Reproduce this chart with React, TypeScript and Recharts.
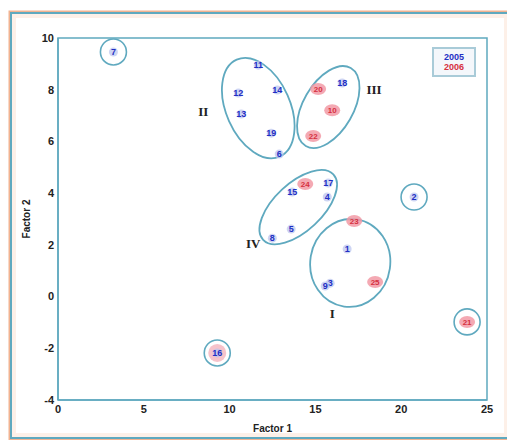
import { ScatterChart, Scatter, XAxis, YAxis, ReferenceArea } from 'recharts';

// sample points, first year (blue labels)
const bluePoints = [
  { x: 3.23, y: 9.46, label: '7' },
  { x: 20.75, y: 3.85, label: '2' },
  { x: 9.28, y: -2.18, label: '16' },
  { x: 11.67, y: 8.95, label: '11' },
  { x: 12.78, y: 7.99, label: '14' },
  { x: 10.51, y: 7.87, label: '12' },
  { x: 10.68, y: 7.06, label: '13' },
  { x: 12.43, y: 6.32, label: '19' },
  { x: 12.89, y: 5.51, label: '6' },
  { x: 16.56, y: 8.26, label: '18' },
  { x: 13.65, y: 4.04, label: '15' },
  { x: 15.75, y: 4.39, label: '17' },
  { x: 15.69, y: 3.85, label: '4' },
  { x: 13.59, y: 2.61, label: '5' },
  { x: 12.49, y: 2.26, label: '8' },
  { x: 16.85, y: 1.84, label: '1' },
  { x: 15.86, y: 0.52, label: '3' },
  { x: 15.57, y: 0.41, label: '9' },
];

// sample points, second year (red labels)
const redPoints = [
  { x: 23.84, y: -0.98, label: '21' },
  { x: 15.16, y: 8.03, label: '20' },
  { x: 15.98, y: 7.21, label: '10' },
  { x: 14.87, y: 6.21, label: '22' },
  { x: 14.41, y: 4.35, label: '24' },
  { x: 17.26, y: 2.92, label: '23' },
  { x: 18.48, y: 0.56, label: '25' },
];

// outliers that get a circle
const outliers = [
  { x: 3.23, y: 9.46, name: '7' },
  { x: 20.75, y: 3.85, name: '2' },
  { x: 9.28, y: -2.18, name: '16' },
  { x: 23.84, y: -0.98, name: '21' },
];

// cluster ellipse centres
const clusters = [
  { x: 11.67, y: 7.29, name: 'II' },
  { x: 15.75, y: 7.33, name: 'III' },
  { x: 14.0, y: 3.46, name: 'IV' },
  { x: 17.03, y: 1.3, name: 'I' },
];

// roman numeral labels
const clusterLabels = [
  { x: 8.47, y: 7.18, name: 'II' },
  { x: 18.42, y: 8.03, name: 'III' },
  { x: 11.38, y: 2.07, name: 'IV' },
  { x: 15.98, y: -0.64, name: 'I' },
];

const xTicks = [0, 5, 10, 15, 20, 25];
const yTicks = [-4, -2, 0, 2, 4, 6, 8, 10];

// ellipse shapes in pixels (rx, ry, rotation)
const ellipseShape: Record<string, [number, number, number]> = {
  II: [32, 53, -24],
  III: [25, 45, 30],
  IV: [48, 24, -43],
  I: [40, 44, 8],
};

const TEAL = '#5fa9bf';
const BLUE = '#1f2fc4';
const RED = '#d63040';
const FONT = '"Liberation Sans", Arial, sans-serif';

const BlueMark = (props: any) => {
  const { cx, cy, payload } = props;
  return (
    <g>
      <circle cx={cx} cy={cy} r={4.5} fill="#b9c3ee" opacity={0.7} />
      <text x={cx} y={cy + 3} textAnchor="middle" fontSize={9} fontWeight="bold" fill={BLUE} fontFamily={FONT}>
        {payload.label}
      </text>
    </g>
  );
};

const RedMark = (props: any) => {
  const { cx, cy, payload } = props;
  return (
    <g>
      <ellipse cx={cx} cy={cy} rx={8} ry={6} fill="#f29aa6" opacity={0.85} />
      <text x={cx} y={cy + 3} textAnchor="middle" fontSize={8} fontWeight="bold" fill={RED} fontFamily={FONT}>
        {payload.label}
      </text>
    </g>
  );
};

const OutlierRing = (props: any) => {
  const { cx, cy, payload } = props;
  return (
    <g>
      {payload.name === '16' && <circle cx={cx} cy={cy} r={9} fill="#f6c3cb" />}
      <circle cx={cx} cy={cy} r={13} fill="none" stroke={TEAL} strokeWidth={1.6} />
    </g>
  );
};

const ClusterEllipse = (props: any) => {
  const { cx, cy, payload } = props;
  const [rx, ry, rot] = ellipseShape[payload.name];
  return (
    <ellipse
      cx={cx}
      cy={cy}
      rx={rx}
      ry={ry}
      transform={`rotate(${rot} ${cx} ${cy})`}
      fill="none"
      stroke={TEAL}
      strokeWidth={1.8}
    />
  );
};

const ClusterText = (props: any) => {
  const { cx, cy, payload } = props;
  return (
    <text x={cx} y={cy + 5} textAnchor="middle" fontSize={13} fontWeight="bold" fill="#222" fontFamily="'Liberation Serif', serif">
      {payload.name}
    </text>
  );
};

export default function App() {
  return (
    <div style={{ position: 'relative', width: 507, height: 432 }}>
      <div
        style={{
          position: 'absolute',
          left: 2,
          top: 4,
          width: 496,
          height: 423,
          border: `2px solid ${TEAL}`,
          boxShadow: '0 0 0 1.5px #f2b391, inset 0 0 0 4px #fdf0e8',
        }}
      />
      <div style={{ position: 'absolute', left: 0, top: 0 }}>
        <ScatterChart width={507} height={432} margin={{ top: 30, right: 28, bottom: 0, left: 0 }}>
          <XAxis
            type="number"
            dataKey="x"
            domain={[0, 25]}
            ticks={xTicks}
            height={40}
            axisLine={{ stroke: TEAL, strokeWidth: 1.5 }}
            tickLine={false}
            tickSize={3}
            tickMargin={2}
            tick={{ fontSize: 11, fill: '#222', fontWeight: 'bold', fontFamily: FONT }}
            label={{ value: 'Factor 1', position: 'insideBottom', offset: 8, fontSize: 10, fill: '#222', fontWeight: 'bold', fontFamily: FONT }}
          />
          <YAxis
            type="number"
            dataKey="y"
            domain={[-4, 10]}
            ticks={yTicks}
            width={50}
            axisLine={{ stroke: TEAL, strokeWidth: 1.5 }}
            tickLine={false}
            tickSize={2}
            tickMargin={2}
            tick={{ fontSize: 11, fill: '#222', fontWeight: 'bold', fontFamily: FONT }}
            label={{
              content: ({ viewBox }: any) => {
                const x = viewBox.x + 22;
                const y = viewBox.y + viewBox.height / 2;
                return (
                  <text x={x} y={y} transform={`rotate(-90 ${x} ${y})`} textAnchor="middle" fontSize={10} fontWeight="bold" fill="#222" fontFamily={FONT}>
                    Factor 2
                  </text>
                );
              },
            }}
          />
          <ReferenceArea x1={0} x2={25} y1={-4} y2={10} fill="none" stroke={TEAL} strokeWidth={1.5} ifOverflow="visible" />
          <Scatter data={outliers} shape={OutlierRing} isAnimationActive={false} />
          <Scatter data={clusters} shape={ClusterEllipse} isAnimationActive={false} />
          <Scatter data={redPoints} shape={RedMark} isAnimationActive={false} />
          <Scatter data={bluePoints} shape={BlueMark} isAnimationActive={false} />
          <Scatter data={clusterLabels} shape={ClusterText} isAnimationActive={false} />
        </ScatterChart>
      </div>
      <div
        style={{
          position: 'absolute',
          left: 424,
          top: 39,
          width: 44,
          height: 30,
          border: '2px solid #a9cbd8',
          background: '#f4f7fb',
          fontFamily: FONT,
          fontSize: 9,
          fontWeight: 'bold',
          lineHeight: '10px',
          textAlign: 'center',
          paddingTop: 3,
          boxSizing: 'border-box',
        }}
      >
        <div style={{ color: BLUE }}>2005</div>
        <div style={{ color: RED }}>2006</div>
      </div>
    </div>
  );
}
